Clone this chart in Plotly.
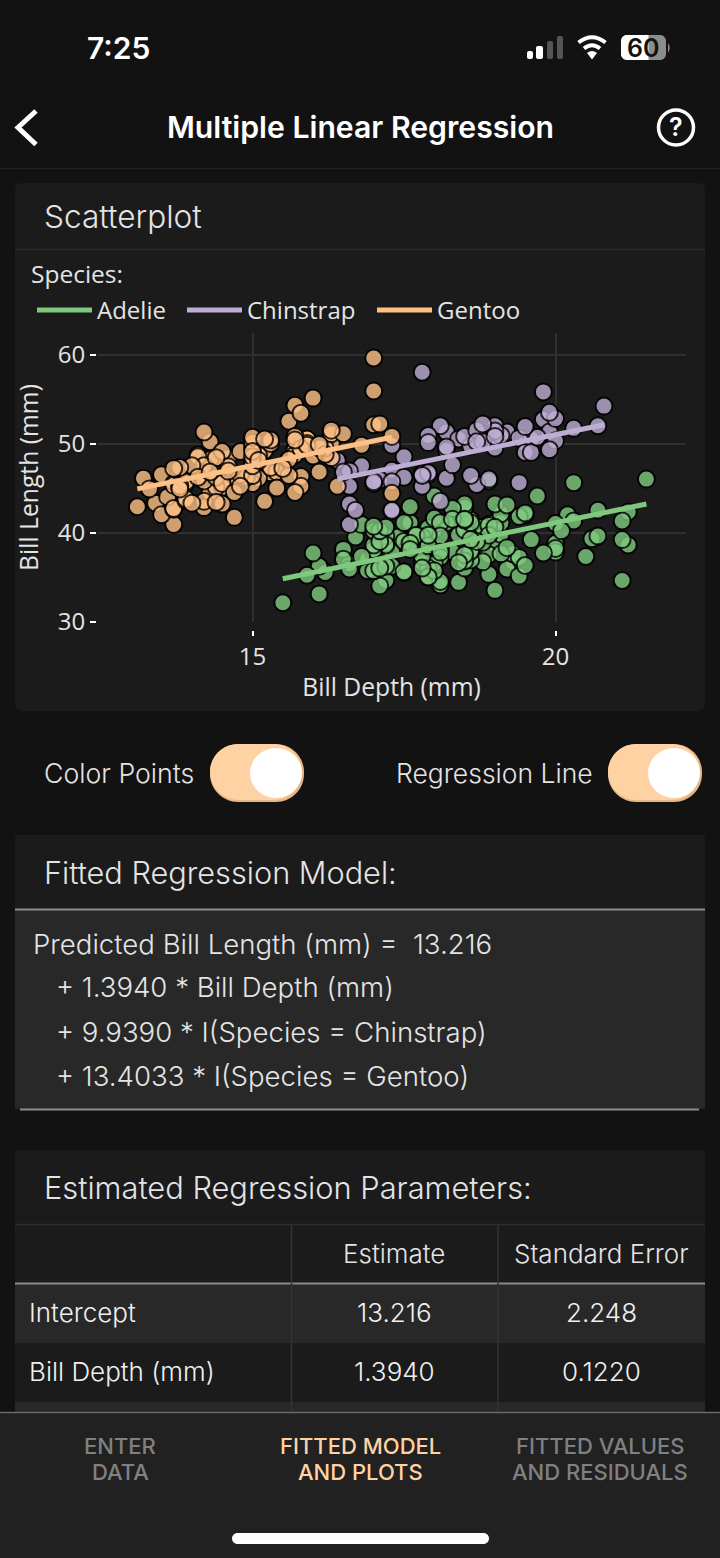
import plotly.graph_objects as go

W, H = 720, 1558

# (bill length, bill depth) per penguin. Palmer penguins rows written from memory,
# then compared with the positions in the picture, not measured dot by dot
adelie_points = [
    (39.1, 18.7), (39.5, 17.4), (40.3, 18.0), (36.7, 19.3), (39.3, 20.6), (38.9, 17.8), (39.2, 19.6), (34.1, 18.1),
    (42.0, 20.2), (37.8, 17.1), (37.8, 17.3), (41.1, 17.6), (38.6, 21.2), (34.6, 21.1), (36.6, 17.8), (38.7, 19.0),
    (42.5, 20.7), (34.4, 18.4), (46.0, 21.5), (37.8, 18.3), (37.7, 18.7), (35.9, 19.2), (38.2, 18.1), (38.8, 17.2),
    (35.3, 18.9), (40.6, 18.6), (40.5, 17.9), (37.9, 18.6), (40.5, 18.9), (39.5, 16.7), (37.2, 18.1), (39.5, 17.8),
    (40.9, 18.9), (36.4, 17.0), (39.2, 21.1), (38.8, 20.0), (42.2, 18.5), (37.6, 19.3), (39.8, 19.1), (36.5, 18.0),
    (40.8, 18.4), (36.0, 18.5), (44.1, 19.7), (37.0, 16.9), (39.6, 18.8), (41.1, 19.0), (37.5, 18.9), (36.0, 17.9),
    (42.3, 21.2), (39.6, 17.7), (40.1, 18.9), (35.0, 17.9), (42.0, 19.5), (34.5, 18.1), (41.4, 18.6), (39.0, 17.5),
    (40.6, 18.8), (36.5, 16.6), (37.6, 19.1), (35.7, 16.9), (41.3, 21.1), (37.6, 17.0), (41.1, 18.2), (36.4, 17.1),
    (41.6, 18.0), (35.5, 16.2), (41.1, 19.1), (35.9, 16.6), (41.8, 19.4), (33.5, 19.0), (39.7, 18.4), (39.6, 17.2),
    (45.8, 18.9), (35.5, 17.5), (42.8, 18.5), (40.9, 16.8), (37.2, 19.4), (36.2, 16.1), (42.1, 19.1), (34.6, 17.2),
    (42.9, 17.6), (36.7, 18.8), (35.1, 19.4), (37.3, 17.8), (41.3, 20.3), (36.3, 19.5), (36.9, 18.6), (38.3, 19.2),
    (38.9, 18.8), (35.7, 18.0), (41.1, 18.1), (34.0, 17.1), (39.6, 18.1), (36.2, 17.3), (40.8, 18.9), (38.1, 18.6),
    (40.3, 18.5), (33.1, 16.1), (43.2, 18.5), (35.0, 17.9), (41.0, 20.0), (37.7, 16.0), (37.8, 20.0), (37.9, 18.6),
    (39.7, 18.9), (38.6, 17.2), (38.2, 20.0), (38.1, 17.0), (43.2, 19.0), (38.1, 16.5), (45.6, 20.3), (39.7, 17.7),
    (42.2, 19.5), (39.6, 20.7), (42.7, 18.3), (38.6, 17.0), (37.3, 20.5), (35.7, 17.0), (41.1, 18.6), (36.2, 17.2),
    (37.7, 19.8), (40.2, 17.0), (41.4, 18.5), (35.2, 15.9), (40.6, 19.0), (38.8, 17.6), (41.5, 18.3), (39.0, 17.1),
    (44.1, 18.0), (38.5, 17.9), (43.1, 19.2), (36.8, 18.5), (37.5, 18.5), (38.1, 17.6), (41.1, 17.5), (35.6, 17.5),
    (40.2, 20.1), (37.0, 16.5), (39.7, 17.9), (40.2, 17.1), (40.6, 17.2), (32.1, 15.5), (40.7, 17.0), (37.3, 16.8),
    (39.0, 18.7), (39.2, 18.6), (36.6, 18.4), (36.0, 17.8), (37.8, 18.1), (36.0, 17.1), (41.5, 18.5),
]
chinstrap_points = [
    (46.5, 17.9), (50.0, 19.5), (51.3, 19.2), (45.4, 18.7), (52.7, 19.8), (45.2, 17.8), (46.1, 18.2), (51.3, 18.2),
    (46.0, 18.9), (51.3, 19.9), (46.6, 17.8), (51.7, 20.3), (47.0, 17.3), (52.0, 18.1), (45.9, 17.1), (50.5, 19.6),
    (50.3, 20.0), (58.0, 17.8), (46.4, 18.6), (49.2, 18.2), (42.4, 17.3), (48.5, 17.5), (43.2, 16.6), (50.6, 19.4),
    (46.7, 17.9), (52.0, 19.0), (50.5, 18.4), (49.5, 19.0), (46.4, 17.8), (52.8, 20.0), (40.9, 16.6), (54.2, 20.8),
    (42.5, 16.7), (51.0, 18.8), (49.7, 18.6), (47.5, 16.8), (47.6, 18.3), (52.0, 20.7), (46.9, 16.6), (53.5, 19.9),
    (49.0, 19.5), (46.2, 17.5), (50.9, 19.1), (45.5, 17.0), (50.9, 17.9), (50.8, 18.5), (50.1, 17.9), (49.0, 19.6),
    (51.5, 18.7), (49.8, 17.3), (48.1, 16.4), (51.4, 19.0), (45.7, 17.3), (50.7, 19.7), (42.5, 17.3), (52.2, 18.8),
    (45.2, 16.6), (49.3, 19.9), (50.2, 18.8), (45.6, 19.4), (51.9, 19.5), (46.8, 16.5), (45.7, 17.0), (55.8, 19.8),
    (43.5, 18.1), (49.6, 18.2), (50.8, 19.0), (50.2, 18.7),
]
gentoo_points = [
    (46.1, 13.2), (50.0, 16.3), (48.7, 14.1), (50.0, 15.2), (47.6, 14.5), (46.5, 13.5), (45.4, 14.6), (46.7, 15.3),
    (43.3, 13.4), (46.8, 15.4), (40.9, 13.7), (49.0, 16.1), (45.5, 13.7), (48.4, 14.6), (45.8, 14.6), (49.3, 15.7),
    (42.0, 13.5), (49.2, 15.2), (46.2, 14.5), (48.7, 15.1), (50.2, 14.3), (45.1, 14.5), (46.5, 14.5), (46.3, 15.8),
    (42.9, 13.1), (46.1, 15.1), (44.5, 14.3), (47.8, 15.0), (48.2, 14.3), (50.0, 15.3), (47.3, 15.3), (42.8, 14.2),
    (45.1, 14.5), (59.6, 17.0), (49.1, 14.8), (48.4, 16.3), (42.6, 13.7), (44.4, 17.3), (44.0, 13.6), (48.7, 15.7),
    (42.7, 13.7), (49.6, 16.0), (45.3, 13.7), (49.6, 15.0), (50.5, 15.9), (43.6, 13.9), (45.5, 13.9), (50.5, 15.9),
    (44.9, 13.3), (45.2, 15.8), (46.6, 14.2), (48.5, 14.1), (45.1, 14.4), (50.1, 15.0), (46.5, 14.4), (45.0, 15.4),
    (43.8, 13.9), (45.5, 15.0), (43.2, 14.5), (50.4, 15.3), (45.3, 13.8), (46.2, 14.9), (45.7, 13.9), (54.3, 15.7),
    (45.8, 14.2), (49.8, 16.8), (46.2, 14.4), (49.5, 16.2), (43.5, 14.2), (50.7, 15.0), (47.7, 15.0), (46.4, 15.6),
    (48.2, 15.6), (46.5, 14.8), (46.4, 15.0), (48.6, 16.0), (47.5, 14.2), (51.1, 16.3), (45.2, 13.8), (45.2, 16.4),
    (49.1, 14.5), (52.5, 15.6), (47.4, 14.6), (50.0, 15.9), (44.9, 13.8), (50.8, 17.3), (43.4, 14.4), (51.3, 14.2),
    (47.5, 14.0), (52.1, 17.0), (47.5, 15.0), (52.2, 17.1), (45.5, 14.5), (49.5, 16.1), (44.5, 14.7), (50.8, 15.7),
    (49.4, 15.8), (46.9, 14.6), (48.4, 14.4), (51.1, 16.5), (48.5, 15.0), (55.9, 17.0), (47.2, 15.5), (49.1, 15.0),
    (47.3, 13.8), (46.8, 16.1), (41.7, 14.7), (53.4, 15.8), (43.3, 14.0), (48.1, 15.1), (50.5, 15.2), (49.8, 15.9),
    (43.5, 15.2), (51.5, 16.3), (46.2, 14.1), (55.1, 16.0), (44.5, 15.7), (48.8, 16.2), (47.2, 13.7), (46.8, 14.3),
    (50.4, 15.7), (45.2, 14.8), (49.9, 16.1),
]

species = ["Adelie", "Chinstrap", "Gentoo"]
colors = ["#7fc97f", "#beaed4", "#fdc086"]
points = [adelie_points, chinstrap_points, gentoo_points]

# regression line ends
line_depth = [[15.5, 21.5], [16.4, 20.8], [13.1, 17.3]]
line_length = [[34.8, 43.2], [46.0, 52.1], [44.9, 50.7]]

x_ticks = [15, 20]
y_ticks = [30, 40, 50, 60]

equation_lines = [
    "Predicted Bill Length (mm) = \u00a013.216",
    "+ 1.3940 * Bill Depth (mm)",
    "+ 9.9390 * I(Species = Chinstrap)",
    "+ 13.4033 * I(Species = Gentoo)",
]
table_headers = ["Estimate", "Standard Error"]
table_terms = ["Intercept", "Bill Depth (mm)"]
table_estimates = ["13.216", "1.3940"]
table_errors = ["2.248", "0.1220"]
nav_top = ["ENTER", "FITTED MODEL", "FITTED VALUES"]
nav_bottom = ["DATA", "AND PLOTS", "AND RESIDUALS"]

BG = "#121212"
PANEL = "#1b1b1b"
BODY = "#282828"
TEXT = "#e4e4e4"
PEACH = "#ffd2a3"
UI_FONT = "Inter"
CHART_FONT = "Open Sans"


def px(x):
    return x / W


def py(y):
    return 1 - y / H


def rect(x0, y0, x1, y1, color):
    return dict(type="rect", xref="paper", yref="paper", x0=px(x0), x1=px(x1), y0=py(y0), y1=py(y1),
                fillcolor=color, line_width=0, layer="below")


def hline(x0, x1, y, color, width=1.5):
    return dict(type="line", xref="paper", yref="paper", x0=px(x0), x1=px(x1), y0=py(y), y1=py(y),
                line=dict(color=color, width=width), layer="below")


def vline(x, y0, y1, color, width=1.5):
    return dict(type="line", xref="paper", yref="paper", x0=px(x), x1=px(x), y0=py(y0), y1=py(y1),
                line=dict(color=color, width=width), layer="below")


def path_shape(pts, fill=None, line=None, width=0):
    d = ""
    for cmd, coords in pts:
        d += cmd + " ".join(f"{px(c[0]):.5f},{py(c[1]):.5f}" for c in coords) + " "
    return dict(type="path", xref="paper", yref="paper", path=d.strip(), fillcolor=fill or "rgba(0,0,0,0)",
                line=dict(color=line or "rgba(0,0,0,0)", width=width), layer="below")


def rounded(x0, y0, x1, y1, r, color):
    k = 0.45 * r
    return path_shape([
        ("M", [(x0 + r, y0)]), ("L", [(x1 - r, y0)]), ("C", [(x1 - k, y0), (x1, y0 + k), (x1, y0 + r)]),
        ("L", [(x1, y1 - r)]), ("C", [(x1, y1 - k), (x1 - k, y1), (x1 - r, y1)]),
        ("L", [(x0 + r, y1)]), ("C", [(x0 + k, y1), (x0, y1 - k), (x0, y1 - r)]),
        ("L", [(x0, y0 + r)]), ("C", [(x0, y0 + k), (x0 + k, y0), (x0 + r, y0)]), ("Z", []),
    ], fill=color)


def circle(x0, y0, x1, y1, fill, line=None, width=0):
    return dict(type="circle", xref="paper", yref="paper", x0=px(x0), x1=px(x1), y0=py(y0), y1=py(y1),
                fillcolor=fill, line=dict(color=line or "rgba(0,0,0,0)", width=width), layer="below")


def label(text, x, y, size, anchor="left", color=TEXT, weight=400, family=UI_FONT):
    if anchor == "left":
        x -= 3  # annotation box padding
    return dict(text=text, x=px(x), y=py(y), xref="paper", yref="paper", xanchor=anchor, yanchor="middle",
                showarrow=False, align="center", font=dict(family=family, size=size, color=color, weight=weight))


shapes = [
    # panels
    rounded(15, 183, 705, 711, 7, PANEL),
    hline(15, 705, 249.5, "#2a2a2a"),
    hline(0, 720, 168.5, "#222222"),
    rect(15, 835, 705, 909, PANEL),
    rect(15, 909, 705, 1109, BODY),
    hline(15, 705, 909.5, "#8c8c8c", 2),
    hline(20, 699, 1109.5, "#8c8c8c", 2),
    rect(15, 1150, 705, 1412, PANEL),
    hline(15, 705, 1224.5, "#2c2c2c"),
    rect(15, 1284, 705, 1343, BODY),
    rect(15, 1402, 705, 1412, BODY),
    hline(15, 705, 1283.5, "#8c8c8c", 2),
    vline(291.5, 1225, 1412, "#333333"),
    vline(498, 1225, 1412, "#333333"),
    # toggles
    rounded(210, 744, 304, 802, 28, "#e6b684"),
    rounded(210, 744, 302, 800, 28, PEACH),
    circle(250, 748, 302, 798, "#ffffff"),
    rounded(608, 744, 702, 802, 28, "#e6b684"),
    rounded(608, 744, 700, 800, 28, PEACH),
    circle(648, 748, 700, 798, "#ffffff"),
    # bottom navigation
    rect(0, 1412, 720, 1558, "#212121"),
    hline(0, 720, 1412.5, "#6a6a6a"),
    rounded(232, 1533, 489, 1544, 5.5, "#ffffff"),
    # status bar: signal, wifi, battery
    rounded(527, 51, 533, 59, 2, "#ffffff"),
    rounded(536, 46, 543, 59, 2, "#ffffff"),
    rounded(547, 41, 553, 59, 2, "#555555"),
    rounded(557, 36, 563, 59, 2, "#555555"),
    path_shape([("M", [(578.5, 42.5)]), ("Q", [(592, 32), (605.5, 42.5)])], line="#ffffff", width=4),
    path_shape([("M", [(584, 48.5)]), ("Q", [(592, 42), (600, 48.5)])], line="#ffffff", width=4),
    path_shape([("M", [(587, 53)]), ("L", [(592, 59.5)]), ("L", [(597, 53)]), ("Q", [(592, 49), (587, 53)]), ("Z", [])], fill="#ffffff"),
    rounded(621, 35, 666, 60, 6, "#8c8c8c"),
    rounded(621, 35, 654, 60, 6, "#ffffff"),
    rect(646, 35, 648.5, 60, "#ffffff"),
    rect(648.5, 35, 656, 60, "#8c8c8c"),
    path_shape([("M", [(668, 43)]), ("Q", [(671.5, 47.5), (668, 53)]), ("Z", [])], fill="#8c8c8c"),
    # header icons
    path_shape([("M", [(36, 111)]), ("L", [(18, 127.5)]), ("L", [(36, 144.5)])], line="#ffffff", width=5),
    circle(658.5, 110, 693.5, 145, "rgba(0,0,0,0)", "#ffffff", 3.5),
]

annotations = [
    label("7:25", 118, 48, 30, "center", "#ffffff", 600),
    label("60", 643, 48, 25, "center", "#111111", 600),
    label("Multiple Linear Regression", 360, 127, 30.2, "center", "#ffffff", 600),
    label("?", 676, 127, 25, "center", "#ffffff", 600),
    label("Scatterplot", 45, 216.5, 31.6, weight=300),
    label("Species:", 32, 273.5, 24.5, family=CHART_FONT),
    label("Color Points", 45, 772.5, 26.7, weight=300),
    label("Regression Line", 397, 772.5, 26.5, weight=300),
    label("Fitted Regression Model:", 45, 872.5, 30.7, weight=300),
    label(equation_lines[0], 34, 943.5, 27.6, weight=300),
    label(equation_lines[1], 57, 987.5, 27.6, weight=300),
    label(equation_lines[2], 57, 1031.5, 27.6, weight=300),
    label(equation_lines[3], 57, 1075.5, 27.6, weight=300),
    label("Estimated Regression Parameters:", 45, 1187.5, 30.8, weight=300),
    label(table_headers[0], 394, 1253, 26, "center", weight=300),
    label(table_headers[1], 601, 1253, 26, "center", weight=300),
]
for i, y in enumerate([1312.5, 1371.5]):
    annotations.append(label(table_terms[i], 30, y, 26, color="#f0f0f0", weight=300))
    annotations.append(label(table_estimates[i], 394, y, 26, "center", "#f0f0f0", 300))
    annotations.append(label(table_errors[i], 601, y, 26, "center", "#f0f0f0", 300))
for i, x in enumerate([120, 360, 600]):
    nav_color = PEACH if i == 1 else "#808080"
    annotations.append(label(nav_top[i], x, 1446, 22, "center", nav_color, 500))
    annotations.append(label(nav_bottom[i], x, 1472, 22, "center", nav_color, 500))

fig = go.Figure()

for name, color, pts in zip(species, colors, points):
    lengths = [p[0] for p in pts]
    depths = [p[1] for p in pts]
    fig.add_trace(go.Scatter(
        x=depths, y=lengths, mode="markers", name=name, showlegend=False,
        marker=dict(size=17, color=color, opacity=0.8, line=dict(color="#000000", width=2)),
    ))

legend_ids = ["legend", "legend2", "legend3"]
for name, color, xs, ys, legend_id in zip(species, colors, line_depth, line_length, legend_ids):
    fig.add_trace(go.Scatter(x=xs, y=ys, mode="lines", name=name, legend=legend_id, line=dict(color=color, width=5)))

# pixels per unit measured on the reference grid
x_left = 15 - (252.5 - 97) / 60.6
x_right = 15 + (686 - 252.5) / 60.6
y_bottom = 30 - (622 - 621.5) / 8.9
y_top = 60 + (354.5 - 333) / 8.9

axis_font = dict(family=CHART_FONT, size=24, color=TEXT)


def legend_at(x):
    return dict(orientation="h", x=px(x), y=py(288), xanchor="left",
                yanchor="top", itemwidth=55, bgcolor="rgba(0,0,0,0)", font=axis_font)


fig.update_layout(
    width=W,
    height=H,
    autosize=False,
    margin=dict(l=0, r=0, t=0, b=0),
    paper_bgcolor=BG,
    plot_bgcolor="rgba(0,0,0,0)",
    shapes=shapes,
    annotations=annotations,
    xaxis=dict(
        domain=[px(97), px(686)], range=[x_left, x_right], anchor="free", position=py(630), automargin=False,
        tickvals=x_ticks, ticks="outside", ticklen=5, tickwidth=2, tickcolor="#ffffff",
        showgrid=True, gridcolor="#303030", gridwidth=1.5, zeroline=False, showline=False,
        tickfont=axis_font, title=dict(text="Bill Depth (mm)", font=dict(axis_font, size=24.7), standoff=7),
    ),
    yaxis=dict(
        domain=[py(622), py(333)], range=[y_bottom, y_top], anchor="free", position=px(96), automargin=False,
        tickvals=y_ticks, ticks="outside", ticklen=6, tickwidth=2, tickcolor="#ffffff",
        showgrid=True, gridcolor="#303030", gridwidth=1.5, zeroline=False, showline=False,
        tickfont=axis_font, title=dict(text="Bill Length (mm)", font=dict(axis_font, size=24.7), standoff=11),
    ),
    legend=legend_at(32),
    legend2=legend_at(182),
    legend3=legend_at(372),
)

fig.write_html(
    "out.html",
    config={"displayModeBar": False},
    post_script="document.body.style.margin='0';document.body.style.background='#121212';document.body.style.overflow='hidden';",
)
